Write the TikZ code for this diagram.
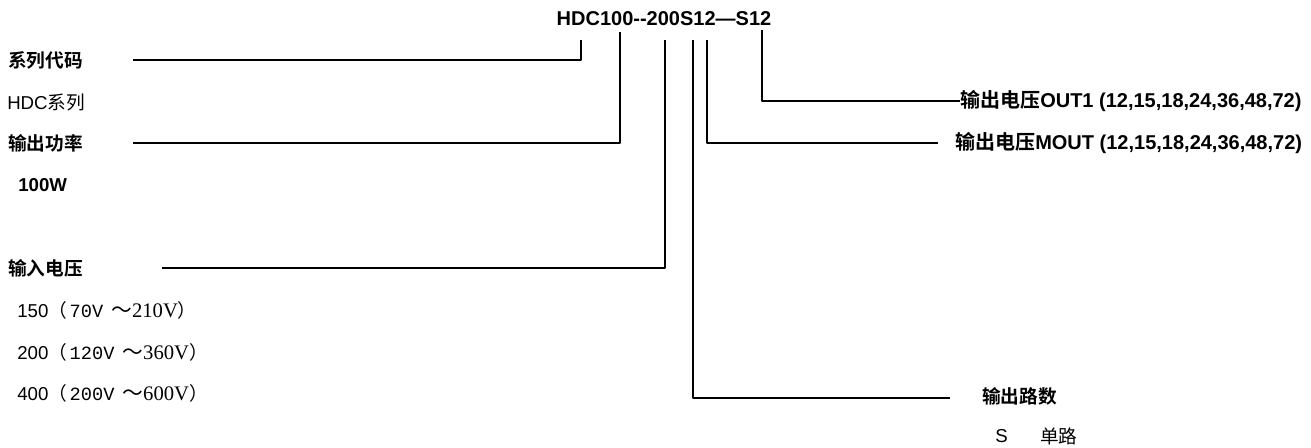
\documentclass[tikz,border=0pt]{standalone}
\usepackage{fontspec}
\setmainfont{Liberation Sans}
\newfontfamily\cjk{Noto Sans CJK SC}[BoldFont={Noto Sans CJK SC Bold}]
\newfontfamily\monof{Liberation Mono}
\newfontfamily\seriff{Liberation Serif}
\newcommand{\zh}[1]{{\cjk #1}}
\newcommand{\vrange}[3]{#1\zh{（}\hspace{2pt}{\monof #2}\hspace{6pt}{\fontsize{15.5}{16}\selectfont\seriff\zh{～}#3}\zh{）}}
\begin{document}
\begin{tikzpicture}[x=0.75pt,y=-0.75pt,line join=round,line cap=butt,
	lbl/.style={anchor=west,inner sep=0pt,font=\fontsize{14}{16}\selectfont},
	head/.style={anchor=west,inner sep=0pt,font=\fontsize{14}{16}\selectfont\bfseries},
	bighead/.style={anchor=west,inner sep=0pt,font=\fontsize{15}{18}\selectfont\bfseries},
	link/.style={line width=1.4pt}]
	\useasboundingbox (0,0) rectangle (1311,447);
	%model code on top
	\node[bighead,anchor=center] (code) at (664,19) {HDC100-{}-200S12—S12};
	%left side
	\node[head] (series) at (8,60) {\zh{系列代码}};
	\node[lbl] (seriesval) at (7,102) {HDC\zh{系列}};
	\node[head] (power) at (8,143) {\zh{输出功率}};
	\node[head] (powerval) at (18,185) {100W};
	\node[head] (vin) at (8,268) {\zh{输入电压}};
	\node[lbl] (vinA) at (17,310) {\vrange{150}{70V}{210V}};
	\node[lbl] (vinB) at (17,352) {\vrange{200}{120V}{360V}};
	\node[lbl] (vinC) at (17,393) {\vrange{400}{200V}{600V}};
	%right side
	\node[bighead] (outA) at (960,101) {\zh{输出电压}OUT1 (12,15,18,24,36,48,72)};
	\node[bighead] (outM) at (955,143) {\zh{输出电压}MOUT (12,15,18,24,36,48,72)};
	\node[head] (nout) at (982,396) {\zh{输出路数}};
	\node[lbl] (noutS) at (995,436) {S};
	\node[lbl] (noutval) at (1040,436) {\zh{单路}};
	%line ends
	\coordinate (pSeries) at (581,40);
	\coordinate (pPower) at (620,32);
	\coordinate (pVin) at (665,40);
	\coordinate (pNout) at (693,40);
	\coordinate (pMout) at (707,40);
	\coordinate (pOut) at (762,30);
	\coordinate (eSeries) at (133,60);
	\coordinate (ePower) at (133,143);
	\coordinate (eVin) at (162,268);
	\coordinate (eNout) at (950,398);
	\coordinate (eMout) at (938,143);
	\draw[link] (pSeries) |- (eSeries);
	\draw[link] (pPower) |- (ePower);
	\draw[link] (pVin) |- (eVin);
	\draw[link] (pNout) |- (eNout);
	\draw[link] (pMout) |- (eMout);
	\draw[link] (pOut) |- (outA.west);
\end{tikzpicture}
\end{document}
